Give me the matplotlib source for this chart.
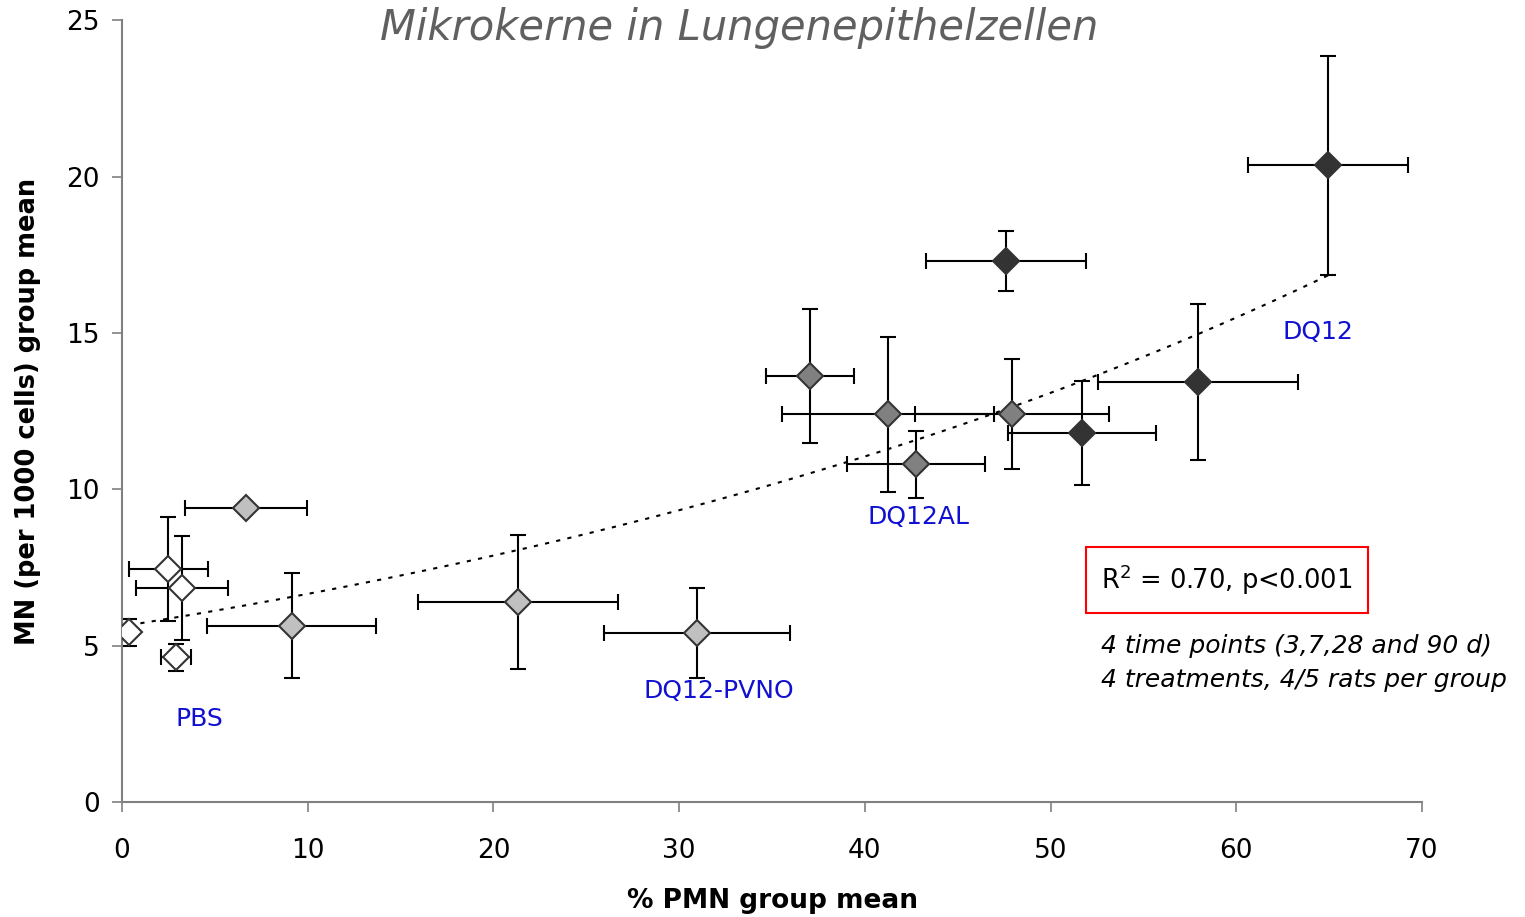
import matplotlib
matplotlib.use('Agg')

import matplotlib.pyplot as plt
import numpy as np

# % PMN group mean, MN per 1000 cells group mean, with errors
pbs_x = [0.38, 2.48, 3.23, 2.9]
pbs_y = [5.43, 7.45, 6.84, 4.63]
pbs_xerr = [0.0, 2.13, 2.47, 0.8]
pbs_yerr = [0.43, 1.65, 1.65, 0.43]

pvno_x = [6.68, 9.15, 21.32, 30.96]
pvno_y = [9.4, 5.63, 6.39, 5.4]
pvno_xerr = [3.3, 4.55, 5.4, 5.0]
pvno_yerr = [0.1, 1.68, 2.14, 1.44]

al_x = [37.05, 41.25, 47.92, 42.75]
al_y = [13.62, 12.4, 12.4, 10.8]
al_xerr = [2.37, 5.7, 5.2, 3.7]
al_yerr = [2.13, 2.48, 1.75, 1.07]

dq_x = [47.6, 51.69, 57.94, 64.94]
dq_y = [17.3, 11.8, 13.43, 20.36]
dq_xerr = [4.3, 3.96, 5.4, 4.3]
dq_yerr = [0.96, 1.65, 2.48, 3.5]

# exponential trend line y = a * exp(b * x)
trend_a = 5.62
trend_b = 0.0169

groups = [
    (pbs_x, pbs_y, pbs_xerr, pbs_yerr, "white"),
    (pvno_x, pvno_y, pvno_xerr, pvno_yerr, "#c0c0c0"),
    (al_x, al_y, al_xerr, al_yerr, "#808080"),
    (dq_x, dq_y, dq_xerr, dq_yerr, "#333333"),
]

fig = plt.figure(figsize=(15.25, 9.17), dpi=100)
ax = fig.add_axes([0.08, 0.1254, 0.8525, 0.8526])

for gx, gy, gxe, gye, col in groups:
    ax.errorbar(gx, gy, xerr=gxe, yerr=gye, fmt='none', ecolor='black',
                elinewidth=1.5, capsize=5.5, capthick=1.5, zorder=2)

all_x = pbs_x + pvno_x + al_x + dq_x
tx = np.linspace(min(all_x), max(all_x), 200)
ax.plot(tx, trend_a * np.exp(trend_b * tx), color='black', lw=1.5,
        linestyle=(0, (2, 3.5)), zorder=3)

for gx, gy, gxe, gye, col in groups:
    ax.plot(gx, gy, 'D', ms=13.5, mfc=col, mec='#333333', mew=1.5,
            linestyle='none', zorder=4)

ax.set_xlim(0, 70)
ax.set_ylim(0, 25)
ax.set_xticks(range(0, 71, 10))
ax.set_yticks(range(0, 26, 5))
ax.tick_params(labelsize=19, length=7, width=1.2, color='#808080')
ax.tick_params(axis='y', pad=9)
ax.tick_params(axis='x', pad=19)
for s in ['top', 'right']:
    ax.spines[s].set_visible(False)
for s in ['left', 'bottom']:
    ax.spines[s].set_color('#808080')
    ax.spines[s].set_linewidth(1.5)

ax.set_xlabel("% PMN group mean", fontsize=19, fontweight='bold', labelpad=17)
ax.set_ylabel("MN (per 1000 cells) group mean", fontsize=18.5, fontweight='bold', labelpad=18)

fig.text(0.485, 0.969, "Mikrokerne in Lungenepithelzellen", fontsize=30,
         style='italic', color='#606060', ha='center', va='center')

blue = '#1010d0'
ax.text(4.15, 2.65, "PBS", color=blue, fontsize=18, ha='center', va='center')
ax.text(32.15, 3.55, "DQ12-PVNO", color=blue, fontsize=18, ha='center', va='center')
ax.text(42.86, 9.11, "DQ12AL", color=blue, fontsize=18, ha='center', va='center')
ax.text(64.4, 15.03, "DQ12", color=blue, fontsize=18, ha='center', va='center')

ax.text(59.5, 7.1, "R$^2$ = 0.70, p<0.001", fontsize=18.5, ha='center', va='center',
        bbox=dict(boxstyle='square,pad=0.6', fc='white', ec='red', lw=1.5))
ax.text(52.7, 4.45, "4 time points (3,7,28 and 90 d)\n4 treatments, 4/5 rats per group",
        fontsize=18, style='italic', ha='left', va='center', linespacing=1.55)

plt.savefig("out.png", dpi=100)
